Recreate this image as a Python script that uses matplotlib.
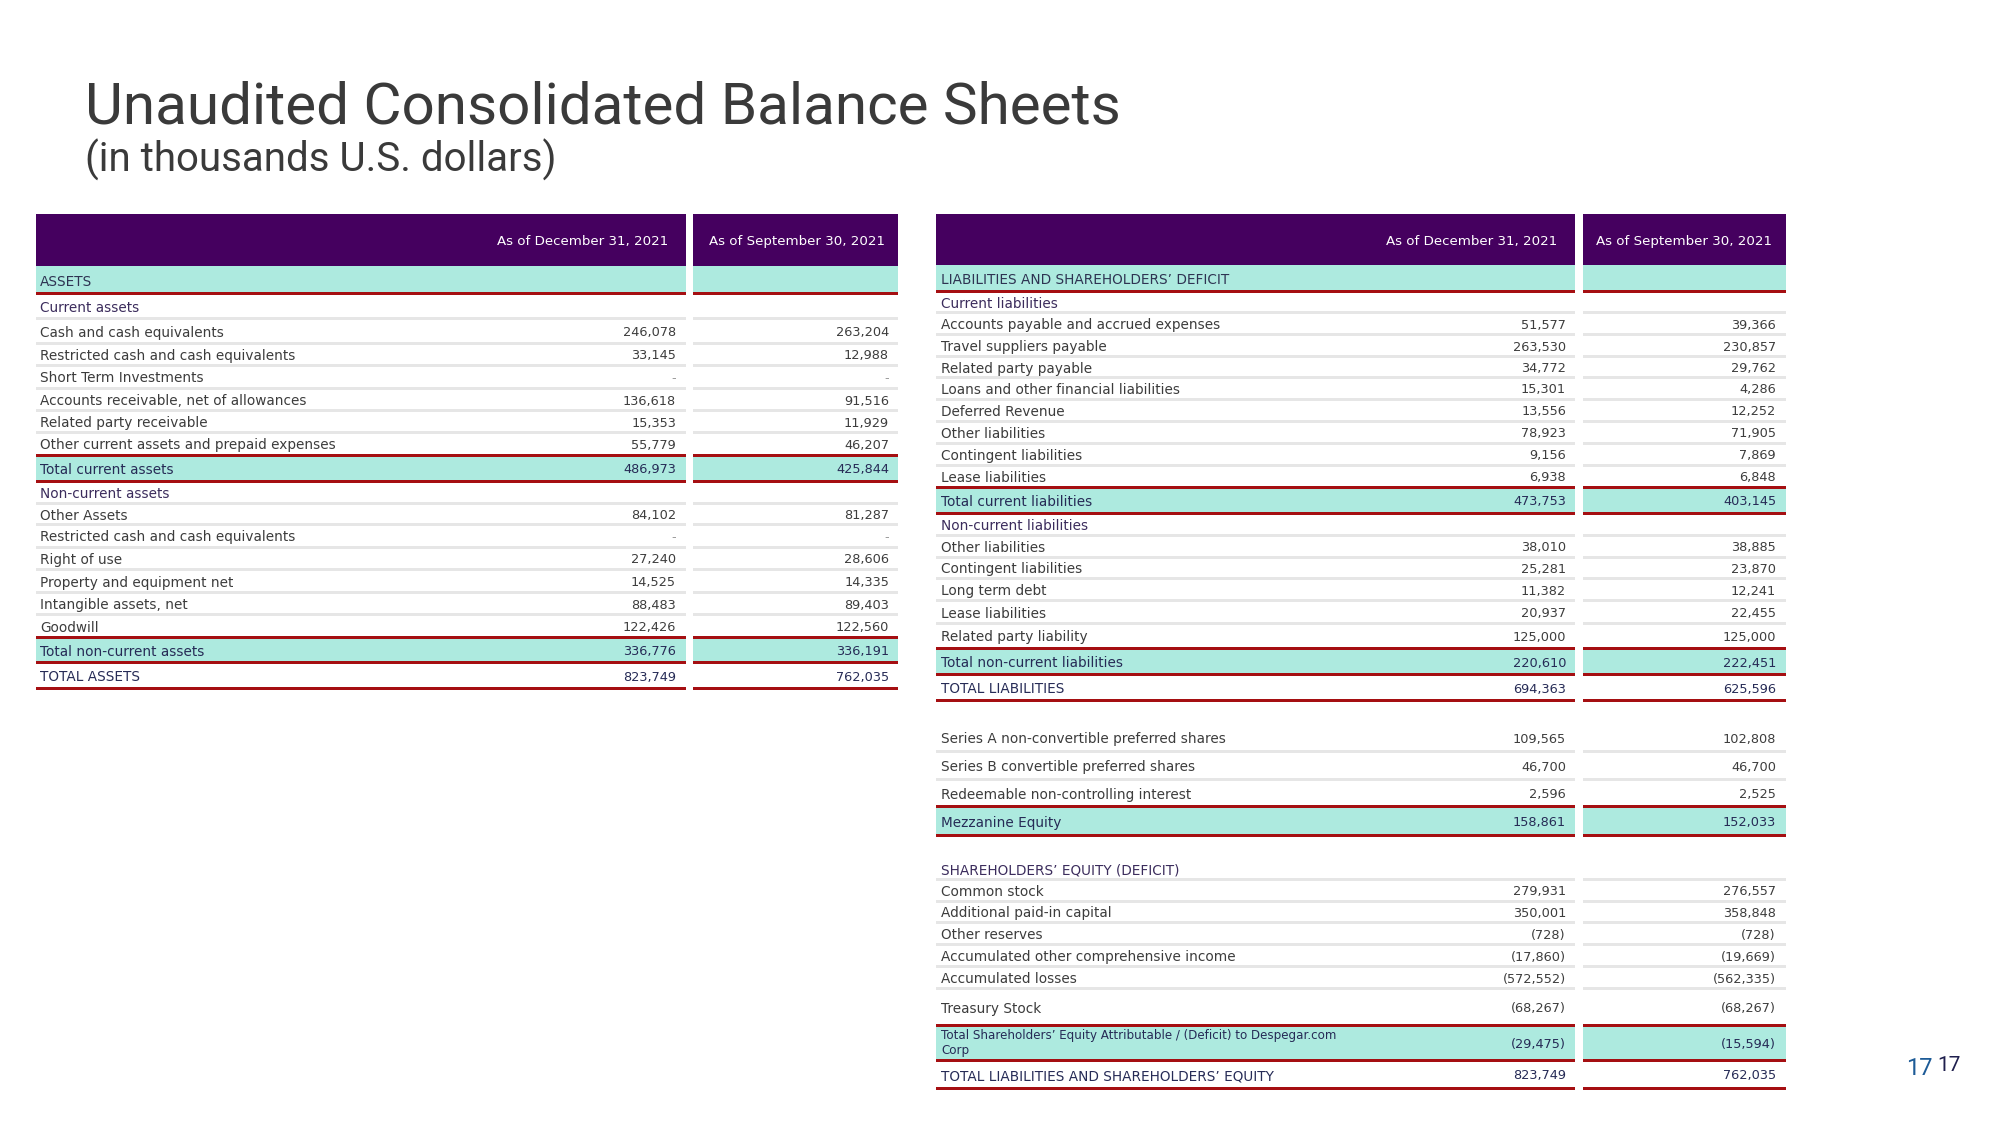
import matplotlib
matplotlib.use("Agg")
import matplotlib.pyplot as plt
from matplotlib.patches import Rectangle

# ---------------- data ----------------
title = "Unaudited Consolidated Balance Sheets"
subtitle = "(in thousands U.S. dollars)"
col_headers = ["As of December 31, 2021", "As of September 30, 2021"]

assets_labels = [
    "ASSETS", "Current assets", "Cash and cash equivalents",
    "Restricted cash and cash equivalents", "Short Term Investments",
    "Accounts receivable, net of allowances", "Related party receivable",
    "Other current assets and prepaid expenses", "Total current assets",
    "Non-current assets", "Other Assets", "Restricted cash and cash equivalents",
    "Right of use", "Property and equipment net", "Intangible assets, net",
    "Goodwill", "Total non-current assets", "TOTAL ASSETS",
]
assets_kinds = [
    "section", "sub", "item", "item", "item", "item", "item", "item", "total",
    "sub", "item", "item", "item", "item", "item", "item", "total", "grand",
]
assets_dec_2021 = [None, None, 246078, 33145, 0, 136618, 15353, 55779, 486973,
                   None, 84102, 0, 27240, 14525, 88483, 122426, 336776, 823749]
assets_sep_2021 = [None, None, 263204, 12988, 0, 91516, 11929, 46207, 425844,
                   None, 81287, 0, 28606, 14335, 89403, 122560, 336191, 762035]

liab_labels = [
    "LIABILITIES AND SHAREHOLDERS\u2019 DEFICIT", "Current liabilities",
    "Accounts payable and accrued expenses", "Travel suppliers payable",
    "Related party payable", "Loans and other financial liabilities",
    "Deferred Revenue", "Other liabilities", "Contingent liabilities",
    "Lease liabilities", "Total current liabilities", "Non-current liabilities",
    "Other liabilities", "Contingent liabilities", "Long term debt",
    "Lease liabilities", "Related party liability", "Total non-current liabilities",
    "TOTAL LIABILITIES", "",
    "Series A non-convertible preferred shares",
    "Series B convertible preferred shares",
    "Redeemable non-controlling interest", "Mezzanine Equity", "",
    "SHAREHOLDERS\u2019 EQUITY (DEFICIT)", "Common stock",
    "Additional paid-in capital", "Other reserves",
    "Accumulated other comprehensive income", "Accumulated losses",
    "Treasury Stock",
    "Total Shareholders\u2019 Equity Attributable / (Deficit) to Despegar.com\nCorp",
    "TOTAL LIABILITIES AND SHAREHOLDERS\u2019 EQUITY",
]
liab_kinds = [
    "section", "sub", "item", "item", "item", "item", "item", "item", "item",
    "item", "total", "sub", "item", "item", "item", "item", "item", "total",
    "grand", "blank", "item", "item", "item", "total", "blank", "sub", "item",
    "item", "item", "item", "item", "item", "total", "grand",
]
liab_dec_2021 = [None, None, 51577, 263530, 34772, 15301, 13556, 78923, 9156,
                 6938, 473753, None, 38010, 25281, 11382, 20937, 125000, 220610,
                 694363, None, 109565, 46700, 2596, 158861, None, None, 279931,
                 350001, -728, -17860, -572552, -68267, -29475, 823749]
liab_sep_2021 = [None, None, 39366, 230857, 29762, 4286, 12252, 71905, 7869,
                 6848, 403145, None, 38885, 23870, 12241, 22455, 125000, 222451,
                 625596, None, 102808, 46700, 2525, 152033, None, None, 276557,
                 358848, -728, -19669, -562335, -68267, -15594, 762035]

page_number = "17"

# ---------------- layout / style ----------------
W, H = 2000, 1125
PURPLE = "#45005f"
TEAL = "#adeadf"
RED = "#a50f12"
GRAY = "#e6e6e6"
TXT = {"section": "#2e3352", "sub": "#3b2c5c", "item": "#3c3c3c",
       "total": "#262b56", "grand": "#262b56", "blank": "#3c3c3c"}
VAL = {"section": "#3c3c3c", "sub": "#3c3c3c", "item": "#3d3d3d",
       "total": "#262b56", "grand": "#262b56", "blank": "#3c3c3c"}
FS_LABEL = 9.85
FS_VALUE = 9.25
FONT = "DejaVu Sans"

assets_heights = [27, 25, 25, 22, 23, 22, 22, 23, 26, 22, 21, 23, 22, 23, 22, 23, 25, 26]
liab_heights = [26, 21, 22, 22, 21, 22, 22, 22, 22, 22, 26, 22, 22, 21, 22, 23, 25,
                26, 26, 23, 28, 28, 27, 29, 23, 21, 22, 21, 22, 22, 22, 37, 35, 28]

fig = plt.figure(figsize=(20, 11.25), dpi=100)
fig.patch.set_facecolor("white")
ax = fig.add_axes([0, 0, 1, 1])
ax.set_xlim(0, W)
ax.set_ylim(H, 0)
ax.axis("off")


def rect(x0, x1, y0, y1, color, z=1):
    ax.add_patch(Rectangle((x0, y0), x1 - x0, y1 - y0, facecolor=color,
                           edgecolor="none", zorder=z))


def fmt(v):
    if v is None:
        return ""
    if v == 0:
        return "-"
    s = f"{abs(v):,}"
    return f"({s})" if v < 0 else s


def draw_table(labels, kinds, v1, v2, heights, blocks, label_x, val_right,
               head_right, head_top, head_bot):
    for (x0, x1) in blocks:
        rect(x0, x1, head_top, head_bot, PURPLE)
    hc = (head_top + head_bot) / 2
    for hx, htxt in zip(head_right, col_headers):
        ax.text(hx, hc + 5.5, htxt, color="white", fontsize=9.6, family=FONT,
                ha="right", va="baseline", zorder=5)
    y = head_bot
    rows = []
    for h in heights:
        rows.append((y, y + h))
        y += h
    n = len(labels)
    for i in range(n):
        top, bot = rows[i]
        k = kinds[i]
        nxt = kinds[i + 1] if i + 1 < n else None
        if k in ("section", "total"):
            for (x0, x1) in blocks:
                rect(x0, x1, top, bot, TEAL, z=1)
        if k == "total":
            for (x0, x1) in blocks:
                rect(x0, x1, top - 1.5, top + 1.5, RED, z=3)
                rect(x0, x1, bot - 1.5, bot + 1.5, RED, z=3)
        elif k in ("section", "grand"):
            for (x0, x1) in blocks:
                rect(x0, x1, bot - 1.5, bot + 1.5, RED, z=3)
        elif k in ("item", "sub") and nxt != "total":
            for (x0, x1) in blocks:
                rect(x0, x1, bot - 1.5, bot + 1.5, GRAY, z=2)
        if k == "blank":
            continue
        c = (top + bot) / 2
        lab = labels[i]
        if "\n" in lab:
            ax.text(label_x, c + 0.5, lab, color=TXT[k], fontsize=8.6,
                    family=FONT, ha="left", va="center", linespacing=1.25,
                    zorder=5)
        else:
            ax.text(label_x, c + 6, lab, color=TXT[k], fontsize=FS_LABEL,
                    family=FONT, ha="left", va="baseline", zorder=5)
        for xr, vals in zip(val_right, (v1, v2)):
            s = fmt(vals[i])
            if s:
                col = "#9a9a9a" if s == "-" else VAL[k]
                ax.text(xr, c + 5.5, s, color=col, fontsize=FS_VALUE,
                        family=FONT, ha="right", va="baseline", zorder=5)


# title
ax.text(85, 124, title, fontsize=42, family="Roboto", color="#3a3a3a",
        ha="left", va="baseline")
ax.text(85, 172, subtitle, fontsize=29, family="Roboto", color="#3a3a3a",
        ha="left", va="baseline")

draw_table(assets_labels, assets_kinds, assets_dec_2021, assets_sep_2021,
           assets_heights, [(36, 686), (693, 898)], 40, (676, 889),
           (668, 885), 214, 266)

draw_table(liab_labels, liab_kinds, liab_dec_2021, liab_sep_2021,
           liab_heights, [(936, 1575), (1583, 1786)], 941, (1566, 1776),
           (1557, 1772), 214, 265)

# page number
ax.text(1906, 1075, page_number, fontsize=17, family="Roboto",
        color="#1d5b97", ha="left", va="baseline")
ax.text(1937, 1071, page_number, fontsize=15, family="Roboto",
        color="#1f1f4d", ha="left", va="baseline")

fig.savefig("out.png", dpi=100, facecolor="white")
